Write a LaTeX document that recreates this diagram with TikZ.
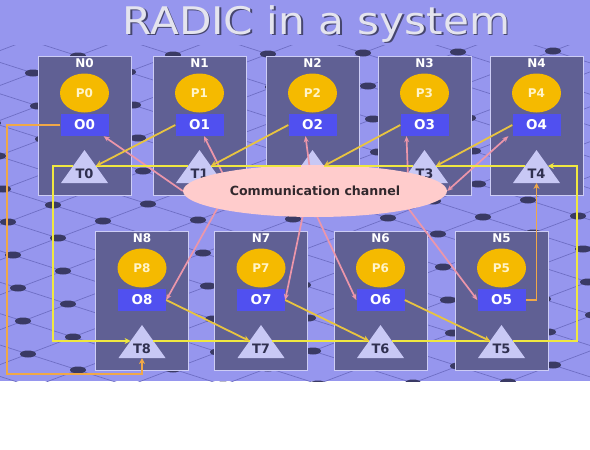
\documentclass[tikz,border=0pt]{standalone}
\usepackage{fontspec}
\setmainfont{DejaVu Sans}
\usetikzlibrary{shapes.geometric,arrows.meta}
\definecolor{bgc}{RGB}{150,150,238}
\definecolor{meshc}{RGB}{110,110,196}
\definecolor{dotc}{RGB}{58,58,100}
\definecolor{boxc}{RGB}{96,96,148}
\definecolor{boxline}{RGB}{205,205,245}
\definecolor{pcol}{RGB}{245,186,0}
\definecolor{ptext}{RGB}{255,244,200}
\definecolor{ocol}{RGB}{80,80,240}
\definecolor{tricol}{RGB}{200,200,245}
\definecolor{ttext}{RGB}{48,48,80}
\definecolor{chanc}{RGB}{255,204,204}
\definecolor{chantext}{RGB}{50,40,45}
\definecolor{pinkl}{RGB}{236,150,170}
\definecolor{ringc}{RGB}{240,232,64}
\definecolor{otc}{RGB}{232,196,64}
\definecolor{orc}{RGB}{240,168,72}
\definecolor{titlec}{RGB}{228,228,238}
\definecolor{shadowc}{RGB}{70,70,110}
\begin{document}
\begin{tikzpicture}[x=1pt,y=-1pt,
  box/.style={draw=boxline,line width=0.8pt,fill=boxc,minimum width=93pt,minimum height=139pt,inner sep=0pt},
  nlab/.style={text=white,font=\bfseries\fontsize{12}{12}\selectfont,inner sep=0pt},
  pnode/.style={ellipse,fill=pcol,minimum width=49pt,minimum height=39pt,inner sep=0pt,text=ptext,font=\bfseries\fontsize{12}{12}\selectfont},
  onode/.style={rectangle,fill=ocol,minimum width=48pt,minimum height=22pt,inner sep=0pt,text=white,font=\bfseries\fontsize{13.5}{13.5}\selectfont},
  tlab/.style={text=ttext,font=\bfseries\fontsize{13}{13}\selectfont,inner sep=0pt},
  trishape/.style={fill=tricol},
  chan/.style={ellipse,fill=chanc,minimum width=264pt,minimum height=52pt,inner sep=0pt,text=chantext,font=\bfseries\fontsize{12.6}{12.6}\selectfont},
  pk/.style={draw=pinkl,line width=1.7pt,-{Stealth[length=6pt,width=5pt]}},
  pkb/.style={draw=pinkl,line width=1.7pt,{Stealth[length=6pt,width=5pt]}-{Stealth[length=6pt,width=5pt]}},
  ring/.style={draw=ringc,line width=1.8pt},
  ringarrow/.style={ring,-{Stealth[length=6pt,width=6pt]}},
  otl/.style={draw=otc,line width=1.8pt,-{Stealth[length=6pt,width=6pt]}},
  orl/.style={draw=orc,line width=1.8pt,-{Stealth[length=6pt,width=6pt]}},
  titletext/.style={font=\fontsize{38}{38}\selectfont,xscale=1.11,inner sep=0pt,anchor=base},
  meshline/.style={draw=meshc,line width=0.7pt},
  meshdot/.style={fill=dotc}
]
\useasboundingbox (0,0) rectangle (590,450);
\fill[white] (0,0) rectangle (590,450);
\fill[bgc] (0,0) rectangle (590,381);
% background mesh
\begin{scope}
\clip (0,45) rectangle (590,381);
\foreach \i in {-7,...,12} {
  \draw[meshline] ({53+50*\i-45*8},{205+16*\i+17*8}) -- ({53+50*\i+45*12},{205+16*\i-17*12});
}
\foreach \j in {-8,...,12} {
  \draw[meshline] ({53+45*\j-50*7},{205-17*\j-16*7}) -- ({53+45*\j+50*12},{205-17*\j+16*12});
}
\foreach \i in {-7,...,12} {
  \foreach \j in {-8,...,12} {
    \fill[meshdot] ({53+50*\i+45*\j},{205+16*\i-17*\j}) ellipse [x radius=8, y radius=3.5];
  }
}
\end{scope}
% title
\node[titletext,text=shadowc] (titleshadow) at (318,35.5) {RADIC in a system};
\node[titletext,text=titlec] (title) at (316.5,34) {RADIC in a system};
% node boxes
\foreach \k/\cx/\tp in {0/84.5/56,1/199.5/56,2/312.5/56,3/424.5/56,4/536.5/56,8/142/231,7/261/231,6/380.5/231,5/501.5/231} {
  \node[box] (n\k) at (\cx,\tp+69.5) {};
  \node[nlab] (nl\k) at (\cx,\tp+7) {N\k};
  \node[pnode] (p\k) at (\cx,\tp+37) {P\k};
  \node[onode] (o\k) at (\cx,\tp+69) {O\k};
  \coordinate (tw\k) at (\cx-11.4,\tp+110);
  \coordinate (te\k) at (\cx+11.4,\tp+110);
  \coordinate (tb\k) at (\cx,\tp+127);
  \fill[trishape] (\cx,\tp+94) -- (\cx+23.5,\tp+127) -- (\cx-23.5,\tp+127) -- cycle;
  \node[tlab] (t\k) at (\cx,\tp+118) {T\k};
}
% pink links under the channel
\coordinate (s1) at (226,180);
\coordinate (s2) at (311,178);
\coordinate (s3) at (408,178);
\coordinate (s8) at (222,200);
\coordinate (s7) at (304,210);
\coordinate (s6) at (314,210);
\coordinate (s5) at (405,204);
\draw[pk] (s1) -- ([xshift=4.5pt]o1.south);
\draw[pk] (s2) -- ([xshift=-7pt]o2.south);
\draw[pk] (s3) -- ([xshift=-18pt]o3.south);
\draw[pk] (s8) -- (o8.east);
\draw[pk] (s7) -- (o7.east);
\draw[pk] (s6) -- (o6.west);
\draw[pk] (s5) -- (o5.west);
% channel
\node[chan] (cc) at (315,191) {Communication channel};
\draw[pk] (cc.west) -- ([xshift=-5pt]o0.south east);
\draw[pkb] (cc.east) -- ([xshift=-4pt]o4.south west);
% ring
\coordinate (ctl) at (53,166);
\coordinate (cbl) at (53,341);
\coordinate (ctr) at (577,166);
\coordinate (cbr) at (577,341);
\draw[ring] (te0) -- (tw1);
\draw[ring] (te1) -- (tw2);
\draw[ring] (te2) -- (tw3);
\draw[ring] (te3) -- (tw4);
\draw[ring] (te8) -- (tw7);
\draw[ring] (te7) -- (tw6);
\draw[ring] (te6) -- (tw5);
\draw[ringarrow] (tw0) -- (ctl) -- (cbl) -- (tw8);
\draw[ringarrow] (te5) -- (cbr) -- (ctr) -- (te4);
% output to transmitter links
\draw[otl] (o1.west) -- (te0);
\draw[otl] (o2.west) -- (te1);
\draw[otl] (o3.west) -- (te2);
\draw[otl] (o4.west) -- (te3);
\draw[otl] (o8.east) -- (tw7);
\draw[otl] (o7.east) -- (tw6);
\draw[otl] (o6.east) -- (tw5);
\coordinate (cl) at (7,374);
\draw[orl] (o0.west) -| (cl) -| (tb8);
\draw[orl] (o5.east) -| (tb4);
\end{tikzpicture}
\end{document}
